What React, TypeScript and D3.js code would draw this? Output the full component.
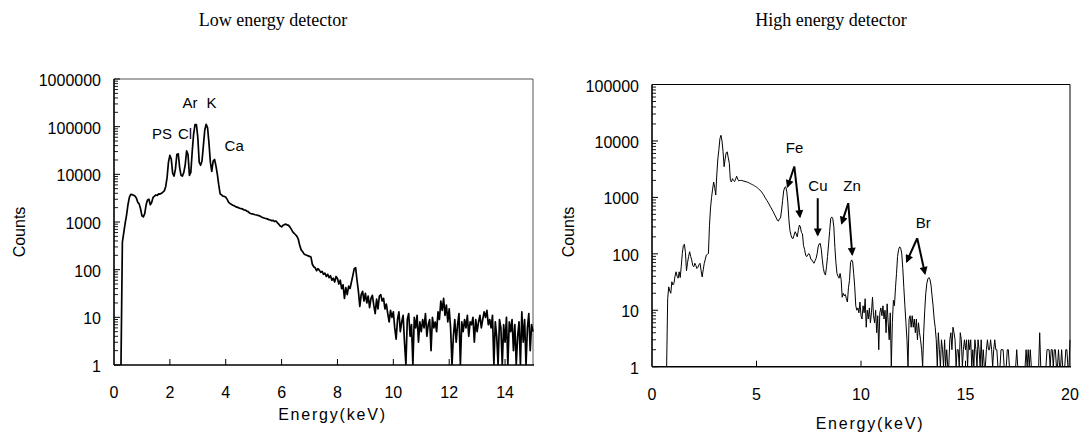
import React from "react";
import * as d3 from "d3";

// ---------- DATA ----------
// Low energy detector: channel energies = lowStart + i * lowStep (keV)
const lowStart = 0.25;
const lowStep = 0.05;
const lowCounts: number[] = [
  1, 380, 600, 950, 1400, 2300, 3300, 3800, 3750, 3650, 3500, 3200, 2600, 2400, 1900,
  1350, 1280, 1500, 2300, 2900, 3000, 2300, 2600, 3300, 3500, 3700, 3600, 3900, 3850, 4000, 4250, 4500, 5500, 8500, 18000,
  25000, 21000, 10500, 9200, 13000, 26000, 27000, 14000, 9500, 9200, 11000, 16000, 31000, 26000, 9500, 11000, 30000, 70000, 110000, 110000,
  60000, 18000, 15500, 19000, 40000, 85000, 112000, 95000, 45000, 18000, 11500, 19000, 20500, 15000, 10000, 6000, 3900, 3700, 3500, 3450,
  3300, 3000, 2600, 2450, 2350, 2250, 2200, 2100, 2050, 2000, 1950, 1900, 1880, 1800, 1780, 1700, 1650, 1550, 1500, 1480,
  1450, 1420, 1400, 1380, 1350, 1300, 1250, 1230, 1200, 1180, 1150, 1120, 1100, 1060, 1080, 1020, 1050, 960, 900, 820,
  790, 850, 880, 900, 870, 850, 780, 700, 620, 580, 540, 500, 430, 320, 260, 240, 215, 205, 200, 195,
  190, 185, 130, 115, 110, 95, 105, 98, 88, 92, 80, 85, 72, 80, 68, 75, 60, 66, 55, 72,
  65, 50, 60, 40, 48, 25, 42, 30, 45, 40, 55, 75, 105, 110, 60, 35, 17, 30, 35, 22,
  32, 20, 28, 16, 25, 29, 18, 12, 24, 15, 28, 30, 22, 25, 15, 19, 12, 8, 14, 10,
  13, 6, 3.5, 9, 13, 5, 8, 11, 3, 1, 9, 12, 4, 7, 1, 10, 6, 11, 3, 8,
  5, 9, 6, 12, 4, 7, 9, 2, 10, 6, 8, 5, 13, 9, 22, 14, 25, 11, 18, 8,
  15, 6, 1, 4, 9, 3, 7, 12, 1, 8, 5, 9, 6, 11, 4, 8, 7, 10, 3, 9,
  5, 8, 11, 6, 9, 13, 10, 14, 7, 9, 6, 11, 1, 8, 4, 1, 9, 6, 1, 7,
  3, 10, 1, 8, 5, 9, 2, 7, 1, 4, 8, 1, 13, 3, 9, 1, 6, 12, 2, 7, 5,
];

// High energy detector: channel energies = highStart + i * highStep (keV)
const highStart = 0.7;
const highStep = 0.05;
const highCounts: number[] = [
  1, 16, 26, 22, 20, 32,
  28, 30, 40, 48, 40, 37, 48, 38, 60, 102, 140, 148, 105, 50, 70, 89, 109, 90, 78, 62,
  59, 68, 62, 55, 58, 64, 68, 50, 39, 52, 68, 80, 95, 98, 101, 320, 650, 1000, 1400, 1870,
  1500, 1100, 2500, 4800, 7000, 11000, 12600, 10000, 6500, 3500, 4800, 6200, 6400, 5000, 4000, 2000, 1870, 2150, 2000, 1900,
  2100, 2370, 2100, 1960, 2000, 1990, 2000, 1960, 1940, 1920, 1890, 1870, 1840, 1800, 1760, 1720, 1680, 1650, 1600, 1560,
  1520, 1470, 1420, 1360, 1300, 1240, 1160, 1090, 1010, 940, 880, 820, 760, 700, 650, 600, 560, 510, 470, 430,
  390, 380, 420, 430, 600, 880, 1300, 1500, 1540, 1250, 800, 400, 260, 214, 190, 187, 215, 246, 225, 200,
  260, 323, 300, 240, 225, 140, 120, 95, 89, 95, 101, 95, 80, 78, 72, 68, 75, 83, 100, 133,
  150, 153, 120, 78, 55, 45, 42, 59, 90, 150, 250, 420, 450, 420, 300, 130, 70, 45, 40, 37,
  45, 35, 17, 20, 18, 19, 16, 14, 25, 34, 70, 78, 72, 45, 26, 12, 10, 11, 9, 14,
  8, 7, 12, 9, 16, 5, 10, 7, 11, 6, 9, 17, 8, 6, 10, 4, 8, 2, 9, 11,
  8, 12, 7, 10, 4, 13, 6, 3, 9, 1, 6, 15, 12, 25, 45, 90, 120, 133, 125, 100,
  55, 25, 12, 6, 3, 1, 7, 8, 5, 8, 5, 7, 4, 7, 3, 6, 4, 3, 2, 1,
  4, 10, 20, 30, 36, 38, 35, 28, 18, 12, 7, 5, 3, 1, 4, 2, 1, 3, 2, 1,
  3, 1, 2, 1, 1, 3, 4, 2, 5, 4, 3, 1, 2, 2, 1, 4, 3, 1, 2, 3,
  2, 3, 1, 3, 2, 3, 1, 2, 1, 3, 2, 1, 3, 2, 1, 3, 1, 2, 1, 1,
  2, 3, 2, 2, 3, 2, 1, 2, 3, 2, 2, 1, 1, 1, 2, 2, 2, 1, 1, 1,
  2, 2, 1, 1, 1, 1, 1, 1, 1, 2, 1, 1, 1, 1, 1, 1, 1, 1, 2, 1,
  2, 1, 2, 1, 1, 1, 1, 1, 1, 1, 1, 4, 1, 1, 1, 1, 1, 1, 2, 2,
  2, 1, 2, 2, 1, 2, 2, 1, 1, 2, 1, 1, 2, 1, 1, 1, 2, 2, 1, 1,
  3,
];

const lowXTicks = [0, 2, 4, 6, 8, 10, 12, 14];
const lowYTicks = [1, 10, 100, 1000, 10000, 100000, 1000000];
const highXTicks = [0, 5, 10, 15, 20];
const highYTicks = [1, 10, 100, 1000, 10000, 100000];

// element labels: [text, keV (left edge), counts (at baseline)]
const lowElementLabels: [string, number, number][] = [
  ["PS", 1.36, 54000],
  ["Cl", 2.29, 54000],
  ["Ar", 2.45, 252000],
  ["K", 3.31, 252000],
  ["Ca", 3.96, 30600],
];
const highElementLabels: [string, number, number][] = [
  ["Fe", 6.4, 6040],
  ["Cu", 7.48, 1300],
  ["Zn", 9.15, 1300],
  ["Br", 12.62, 284],
];
// arrows: [fromKeV, fromCounts, toKeV, toCounts]
const highArrows: [number, number, number, number][] = [
  [6.81, 3520, 6.49, 1560],
  [6.81, 3520, 7.08, 455],
  [7.93, 968, 7.93, 216],
  [9.39, 789, 9.08, 349],
  [9.39, 789, 9.58, 98],
  [12.69, 189, 12.19, 73],
  [12.69, 189, 13.06, 45],
];

// ---------- RENDER ----------
type PanelProps = {
  title: string;
  titleX: number;
  x0: number; x1: number; y0: number; y1: number;
  xMax: number; yMax: number;
  xTicks: number[]; yTicks: number[];
  start: number; step: number; counts: number[];
  lineWidth: number;
  frameColor: string;
  labels: [string, number, number][];
  arrows: [number, number, number, number][];
  xTitleY: number;
  countsX: number;
  id: string;
};

const SANS = "'Liberation Sans', Arial, sans-serif";

function Panel(p: PanelProps) {
  const x = d3.scaleLinear().domain([0, p.xMax]).range([p.x0, p.x1]);
  const y = d3.scaleLog().domain([1, p.yMax]).range([p.y1, p.y0]);
  const pts = p.counts.map((c, i) => [p.start + i * p.step, c] as [number, number]);
  const line = d3
    .line<[number, number]>()
    .x((d) => x(d[0]))
    .y((d) => y(Math.max(1, d[1])));
  const minor: number[] = [];
  for (let k = 0; Math.pow(10, k) < p.yMax; k++) {
    for (let m = 2; m <= 9; m++) minor.push(m * Math.pow(10, k));
  }
  return (
    <g>
      <defs>
        <clipPath id={"clip-" + p.id}>
          <rect x={p.x0} y={p.y0 - 1} width={p.x1 - p.x0 + 2} height={p.y1 - p.y0 + 1} />
        </clipPath>
      </defs>
      <text x={p.titleX} y={26} textAnchor="middle" fontFamily="'Liberation Serif', 'Times New Roman', serif" fontSize={18}>
        {p.title}
      </text>
      {/* frame */}
      <line x1={p.x0} x2={p.x1} y1={p.y0} y2={p.y0} stroke={p.frameColor} strokeWidth={1} />
      <line x1={p.x1} x2={p.x1} y1={p.y0} y2={p.y1} stroke={p.frameColor} strokeWidth={1} />
      {/* data */}
      <path d={line(pts) || ""} fill="none" stroke="#000" strokeWidth={p.lineWidth} strokeLinejoin="round" clipPath={`url(#clip-${p.id})`} />
      {/* axes */}
      <line x1={p.x0} x2={p.x0} y1={p.y0} y2={p.y1} stroke="#000" strokeWidth={1.6} />
      <line x1={p.x0} x2={p.x1 + 1} y1={p.y1} y2={p.y1} stroke="#000" strokeWidth={1.6} />
      {minor.map((v) => (
        <line key={"m" + v} x1={p.x0} x2={p.x0 + 4} y1={y(v)} y2={y(v)} stroke="#000" strokeWidth={0.9} />
      ))}
      {p.yTicks.map((v) => (
        <g key={"y" + v}>
          <line x1={p.x0} x2={p.x0 + 6} y1={y(v)} y2={y(v)} stroke="#000" strokeWidth={1} />
          <text x={p.x0 - 13} y={y(v) + 7} textAnchor="end" fontFamily={SANS} fontSize={16}>
            {v}
          </text>
        </g>
      ))}
      {p.xTicks.map((v) => (
        <g key={"x" + v}>
          {v > 0 && v < p.xMax && (
            <line x1={x(v)} x2={x(v)} y1={p.y1} y2={p.y1 - 6} stroke="#000" strokeWidth={1} />
          )}
          <text x={x(v)} y={p.y1 + 33} textAnchor="middle" fontFamily={SANS} fontSize={16}>
            {v}
          </text>
        </g>
      ))}
      <text x={(p.x0 + p.x1) / 2 + 9} y={p.xTitleY} textAnchor="middle" fontFamily={SANS} fontSize={16} letterSpacing={1.8}>
        Energy(keV)
      </text>
      <text transform={`translate(${p.countsX},232) rotate(-90)`} textAnchor="middle" fontFamily={SANS} fontSize={16}>
        Counts
      </text>
      {p.labels.map(([t, e, c]) => (
        <text key={t} x={x(e)} y={y(c)} fontFamily={SANS} fontSize={15}>
          {t}
        </text>
      ))}
      {p.arrows.map(([e0, c0, e1, c1], i) => (
        <line key={"a" + i} x1={x(e0)} y1={y(c0)} x2={x(e1)} y2={y(c1)} stroke="#000" strokeWidth={2} markerEnd="url(#arrowhead)" />
      ))}
    </g>
  );
}

export default function App() {
  return (
    <svg width={1085} height={437} style={{ position: "absolute", left: 0, top: 0, background: "#fff" }}>
      <defs>
        <marker id="arrowhead" viewBox="0 0 10 10" refX={8} refY={5} markerUnits="userSpaceOnUse" markerWidth={9} markerHeight={8} orient="auto">
          <path d="M0,0 L10,5 L0,10 z" fill="#000" />
        </marker>
      </defs>
      <rect x={0} y={0} width={1085} height={437} fill="#fff" />
      <Panel
        id="low"
        title="Low energy detector"
        titleX={273}
        x0={114} x1={533} y0={79} y1={365}
        xMax={15} yMax={1000000}
        xTicks={lowXTicks} yTicks={lowYTicks}
        start={lowStart} step={lowStep} counts={lowCounts}
        lineWidth={1.7}
        frameColor="#555"
        labels={lowElementLabels}
        arrows={[]}
        xTitleY={420}
        countsX={25}
      />
      <Panel
        id="high"
        title="High energy detector"
        titleX={831}
        x0={652} x1={1070} y0={84.5} y1={366.7}
        xMax={20} yMax={100000}
        xTicks={highXTicks} yTicks={highYTicks}
        start={highStart} step={highStep} counts={highCounts}
        lineWidth={1}
        frameColor="#000"
        labels={highElementLabels}
        arrows={highArrows}
        xTitleY={429}
        countsX={574}
      />
    </svg>
  );
}
